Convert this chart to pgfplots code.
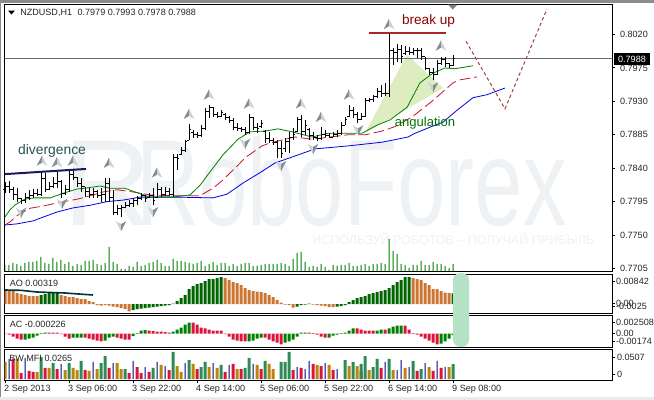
\documentclass[border=0pt]{standalone}
\usepackage{fontspec}
\setmainfont{Liberation Sans}
\usepackage{pgfplots}
\usepackage{pgfplotstable}
\pgfplotsset{compat=1.18}

\definecolor{wmark}{HTML}{EFF2F5}
\definecolor{aoOrange}{HTML}{CC7532}
\definecolor{aoGreen}{HTML}{006400}
\definecolor{acGreen}{HTML}{008000}
\definecolor{acRed}{HTML}{DC143C}
\definecolor{bwGreen}{HTML}{2E8B57}
\definecolor{bwGold}{HTML}{B8860B}
\definecolor{bwBlue}{HTML}{00008B}
\definecolor{fracDark}{HTML}{858C94}
\definecolor{fracLight}{HTML}{CDD1D6}
\definecolor{wedge}{HTML}{DEEDBF}
\definecolor{pill}{HTML}{B5E3C6}
\newcommand{\tinyfs}{\fontsize{6.8pt}{8pt}\selectfont}

\pgfdeclareplotmark{oTick}{\pgfpathmoveto{\pgfqpoint{-1.3pt}{0pt}}\pgfpathlineto{\pgfqpoint{0pt}{0pt}}\pgfusepathqstroke}
\pgfdeclareplotmark{cTick}{\pgfpathmoveto{\pgfqpoint{1.3pt}{0pt}}\pgfpathlineto{\pgfqpoint{0pt}{0pt}}\pgfusepathqstroke}
\pgfdeclareplotmark{fracUp}{%
  \pgfsetfillcolor{fracDark}
  \pgfpathmoveto{\pgfqpoint{0pt}{4pt}}\pgfpathlineto{\pgfqpoint{-4pt}{-3.8pt}}\pgfpathlineto{\pgfqpoint{0pt}{-1.5pt}}\pgfpathclose\pgfusepathqfill
  \pgfsetfillcolor{fracLight}
  \pgfpathmoveto{\pgfqpoint{0pt}{4pt}}\pgfpathlineto{\pgfqpoint{4pt}{-3.8pt}}\pgfpathlineto{\pgfqpoint{0pt}{-1.5pt}}\pgfpathclose\pgfusepathqfill}
\pgfdeclareplotmark{fracDown}{%
  \pgfsetfillcolor{fracLight}
  \pgfpathmoveto{\pgfqpoint{0pt}{-4pt}}\pgfpathlineto{\pgfqpoint{-4pt}{3.8pt}}\pgfpathlineto{\pgfqpoint{0pt}{1.5pt}}\pgfpathclose\pgfusepathqfill
  \pgfsetfillcolor{fracDark}
  \pgfpathmoveto{\pgfqpoint{0pt}{-4pt}}\pgfpathlineto{\pgfqpoint{4pt}{3.8pt}}\pgfpathlineto{\pgfqpoint{0pt}{1.5pt}}\pgfpathclose\pgfusepathqfill}

\pgfplotsset{
  panel/.style={
    scale only axis, width=456pt,
    xmin=-0.125, xmax=151.875,
    xtick=\empty,
    scaled y ticks=false,
    ytick pos=right, tick align=outside,
    major tick length=1.5pt,
    tick style={black, line width=0.75pt},
    axis line style={black, line width=0.75pt},
    yticklabel style={font=\tinyfs, anchor=west, inner sep=0pt, xshift=1pt, text=black!85},
    clip=true,
  },
  hbar/.style={ybar, bar width=2.25pt, bar shift=0pt, draw=none, fill=#1, forget plot},
  thinbar/.style={ybar, bar width=0.75pt, bar shift=0pt, draw=none, fill=#1, forget plot},
}

% hourly bars: index, open, high, low, close
\pgfplotstableread{
i o h l c
0 0.7811 0.7821 0.7807 0.7816
1 0.7816 0.7823 0.7807 0.7812
2 0.7812 0.7815 0.7797 0.7805
3 0.7805 0.7813 0.7795 0.7799
4 0.7799 0.7800 0.7792 0.7796
5 0.7796 0.7807 0.7793 0.7801
6 0.7801 0.7811 0.7797 0.7803
7 0.7803 0.7812 0.7800 0.7806
8 0.7806 0.7812 0.7803 0.7805
9 0.7805 0.7836 0.7803 0.7826
10 0.7826 0.7834 0.7808 0.7811
11 0.7811 0.7821 0.7811 0.7815
12 0.7815 0.7828 0.7813 0.7820
13 0.7820 0.7835 0.7813 0.7822
14 0.7822 0.7824 0.7800 0.7806
15 0.7806 0.7817 0.7804 0.7812
16 0.7812 0.7839 0.7808 0.7832
17 0.7832 0.7838 0.7824 0.7827
18 0.7827 0.7828 0.7815 0.7820
19 0.7820 0.7827 0.7808 0.7815
20 0.7815 0.7815 0.7801 0.7808
21 0.7808 0.7813 0.7800 0.7805
22 0.7805 0.7813 0.7800 0.7808
23 0.7808 0.7811 0.7800 0.7803
24 0.7803 0.7813 0.7795 0.7805
25 0.7805 0.7827 0.7795 0.7820
26 0.7820 0.7827 0.7795 0.7800
27 0.7800 0.7811 0.7777 0.7781
28 0.7781 0.7790 0.7777 0.7786
29 0.7786 0.7790 0.7774 0.7787
30 0.7787 0.7795 0.7786 0.7790
31 0.7790 0.7797 0.7788 0.7793
32 0.7793 0.7800 0.7788 0.7796
33 0.7796 0.7803 0.7790 0.7799
34 0.7799 0.7807 0.7797 0.7803
35 0.7803 0.7804 0.7795 0.7799
36 0.7800 0.7807 0.7800 0.7803
37 0.7803 0.7813 0.7790 0.7797
38 0.7801 0.7820 0.7800 0.7812
39 0.7812 0.7815 0.7801 0.7805
40 0.7805 0.7815 0.7803 0.7809
41 0.7809 0.7813 0.7803 0.7805
42 0.7805 0.7859 0.7801 0.7855
43 0.7855 0.7859 0.7838 0.7853
44 0.7858 0.7869 0.7858 0.7864
45 0.7864 0.7878 0.7862 0.7876
46 0.7878 0.7900 0.7878 0.7892
47 0.7888 0.7891 0.7881 0.7885
48 0.7885 0.7889 0.7881 0.7884
49 0.7884 0.7898 0.7882 0.7894
50 0.7894 0.7921 0.7891 0.7917
51 0.7917 0.7925 0.7908 0.7922
52 0.7922 0.7922 0.7909 0.7912
53 0.7912 0.7916 0.7908 0.7910
54 0.7910 0.7918 0.7909 0.7915
55 0.7912 0.7914 0.7905 0.7908
56 0.7908 0.7910 0.7901 0.7904
57 0.7904 0.7908 0.7891 0.7895
58 0.7895 0.7901 0.7890 0.7893
59 0.7893 0.7896 0.7889 0.7892
60 0.7892 0.7896 0.7885 0.7888
61 0.7888 0.7913 0.7886 0.7908
62 0.7908 0.7909 0.7891 0.7895
63 0.7895 0.7901 0.7887 0.7893
64 0.7896 0.7905 0.7894 0.7900
65 0.7890 0.7891 0.7874 0.7880
66 0.7880 0.7889 0.7874 0.7877
67 0.7877 0.7881 0.7871 0.7875
68 0.7875 0.7878 0.7854 0.7866
69 0.7866 0.7877 0.7854 0.7860
70 0.7866 0.7881 0.7862 0.7876
71 0.7876 0.7889 0.7860 0.7882
72 0.7882 0.7894 0.7878 0.7885
73 0.7889 0.7909 0.7889 0.7905
74 0.7905 0.7912 0.7882 0.7890
75 0.7890 0.7905 0.7885 0.7897
76 0.7892 0.7894 0.7878 0.7884
77 0.7884 0.7889 0.7878 0.7881
78 0.7881 0.7885 0.7877 0.7880
79 0.7880 0.7896 0.7878 0.7886
80 0.7886 0.7891 0.7882 0.7884
81 0.7884 0.7887 0.7881 0.7882
82 0.7882 0.7889 0.7882 0.7885
83 0.7885 0.7891 0.7882 0.7887
84 0.7887 0.7902 0.7885 0.7898
85 0.7898 0.7909 0.7898 0.7906
86 0.7910 0.7925 0.7909 0.7918
87 0.7918 0.7922 0.7908 0.7912
88 0.7912 0.7916 0.7901 0.7905
89 0.7905 0.7914 0.7905 0.7910
90 0.7910 0.7935 0.7909 0.7931
91 0.7931 0.7935 0.7929 0.7932
92 0.7932 0.7939 0.7929 0.7936
93 0.7936 0.7948 0.7935 0.7944
94 0.7944 0.7952 0.7936 0.7940
95 0.7940 0.7955 0.7937 0.7941
96 0.7941 0.8022 0.7936 0.7998
97 0.7999 0.8002 0.7979 0.7996
98 0.7996 0.8007 0.7983 0.8000
99 0.8000 0.8006 0.7982 0.7991
100 0.7995 0.8005 0.7993 0.7997
101 0.7997 0.8003 0.7993 0.7996
102 0.7996 0.8002 0.7993 0.7999
103 0.7999 0.8002 0.7988 0.7998
104 0.7998 0.8002 0.7986 0.7990
105 0.7990 0.7990 0.7972 0.7975
106 0.7975 0.7975 0.7966 0.7969
107 0.7969 0.7975 0.7959 0.7966
108 0.7966 0.7986 0.7966 0.7981
109 0.7981 0.7990 0.7979 0.7986
110 0.7986 0.7990 0.7976 0.7981
111 0.7981 0.7982 0.7975 0.7978
112 0.7979 0.7993 0.7978 0.7988
}\ohlc

% tick volume per bar
\pgfplotstableread{
i v
0 7
1 7
2 9
3 8
4 6
5 9
6 10
7 10
8 11
9 15
10 9
11 8
12 14
13 10
14 12
15 8
16 10
17 6
18 8
19 7
20 11
21 11
22 12
23 8
24 7
25 9
26 25
27 10
28 8
29 3
30 3
31 6
32 5
33 10
34 6
35 7
36 9
37 10
38 12
39 9
40 6
41 6
42 13
43 11
44 11
45 10
46 9
47 8
48 9
49 11
50 6
51 8
52 10
53 7
54 9
55 9
56 6
57 8
58 6
59 8
60 9
61 9
62 6
63 6
64 7
65 8
66 8
67 8
68 8
69 9
70 8
71 6
72 13
73 19
74 20
75 10
76 5
77 6
78 5
79 8
80 5
81 2
82 7
83 6
84 7
85 7
86 9
87 6
88 6
89 7
90 8
91 6
92 8
93 8
94 9
95 8
96 33
97 21
98 18
99 8
100 7
101 4
102 7
103 7
104 11
105 7
106 7
107 10
108 8
109 8
110 6
111 4
112 8
}\vol

\begin{document}
\begin{tikzpicture}
\begin{scope}[x=0.75pt,y=-0.75pt]
  \useasboundingbox (0,0) rectangle (654,400);
  \fill[white] (0,0) rectangle (654,400);
  \fill[black!45] (0,0) rectangle (654,3);
  \fill[black!45] (0,0) rectangle (1.5,400);
  \fill[black!8] (0,397) rectangle (654,400);
  % watermark sits under everything
  \node[anchor=base west, inner sep=0pt, text=wmark] at (63,225) {\fontsize{92pt}{92pt}\selectfont R};
  \node[anchor=base west, inner sep=0pt, text=wmark, xscale=0.71] at (136,225) {\fontsize{92pt}{92pt}\selectfont RoboForex};
  \node[anchor=west, inner sep=0pt, text=wmark] at (312,239) {\fontsize{9.4pt}{12pt}\selectfont ИСПОЛЬЗУЙ РОБОТОВ – ПОЛУЧАЙ ПРИБЫЛЬ};
\end{scope}

% volume overlay on the main window
\begin{axis}[panel, at={(3.375pt,-3.375pt)}, anchor=north west, height=200.6pt,
  ymin=0, ymax=267.5, ytick=\empty, hide axis]
  \addplot[thinbar=acGreen] table[x=i,y=v] {\vol};
\end{axis}

% main price window
\begin{axis}[panel, at={(3.375pt,-3.375pt)}, anchor=north west, height=200.6pt,
  ymin=0.77002, ymax=0.80605,
  ytick={0.8020,0.7975,0.7930,0.7885,0.7840,0.7795,0.7750,0.7705},
  yticklabels={0.8020,0.7975,0.7930,0.7885,0.7840,0.7795,0.7750,0.7705},
  yticklabel style={xshift=3pt}]
  % angulation wedge
  \addplot[fill=wedge, draw=none, forget plot] coordinates {(100.5,0.7993) (90,0.7887) (109.5,0.7948)} -- cycle;
  \addplot[black!50!blue!20!gray, line width=0.75pt, forget plot] coordinates {(-0.125,0.7988) (151.875,0.7988)};
  % alligator lines
  \addplot[blue!90!black, line width=0.6pt] coordinates {
    (0,0.77635) (3,0.7765) (7,0.7769) (9.5,0.7774) (13,0.7781) (17,0.77865) (21.25,0.7790) (25.5,0.7795) (29.5,0.7797)
    (33.75,0.7801) (43,0.7801) (52,0.7800) (55.5,0.7805) (59.5,0.7820) (63.75,0.7834) (67.5,0.7847) (71.75,0.7855)
    (77.5,0.7866) (85.75,0.7870) (94.25,0.7875) (100.75,0.7882) (102.5,0.7887) (107.5,0.7898) (109.5,0.7902)
    (113,0.7918) (117,0.7935) (120.5,0.7939) (125,0.7948)};
  \addplot[acRed!90!black, line width=0.6pt, dash pattern=on 8pt off 3pt] coordinates {
    (0,0.77635) (1.25,0.77676) (3.25,0.7777) (6.25,0.7786) (9.5,0.7789) (12,0.7792) (18.25,0.77985) (22,0.7804)
    (24.5,0.7808) (28,0.7811) (32,0.7808) (36.25,0.7804) (41.25,0.7803) (48.75,0.7803) (52,0.7813) (54.25,0.7823)
    (58.25,0.7844) (60,0.7854) (64.25,0.7870) (66.25,0.7874) (70,0.7879) (72.5,0.7882) (76.75,0.7879) (81.25,0.7882)
    (85.75,0.7885) (90,0.7885) (94.25,0.7890) (97.5,0.7896) (101.75,0.7909) (106.25,0.7928) (108,0.7936) (112,0.7955)
    (113.75,0.7959) (118,0.7963)};
  \addplot[acGreen, line width=0.6pt] coordinates {
    (0,0.77743) (1.25,0.7784) (2.5,0.77905) (5,0.77985) (7.5,0.7800) (11.25,0.7800) (15,0.7807) (18,0.7812) (20,0.7813)
    (23.75,0.7816) (26.25,0.7813) (30,0.7813) (32.5,0.7808) (36.25,0.7801) (42,0.7801) (46.25,0.7804) (48.75,0.7817)
    (51.25,0.7835) (54.5,0.7858) (58.25,0.7879) (61.25,0.7889) (65,0.7890) (68.25,0.7893) (71.75,0.7889) (76.75,0.7882)
    (80.75,0.7887) (85.75,0.7887) (89.25,0.7887) (93,0.7898) (96.25,0.7905) (100.5,0.7922) (103.75,0.7955) (107,0.7968)
    (110,0.7975) (112.5,0.7974) (117,0.7978)};
  % OHLC bars
  \addplot[draw=none, no markers, forget plot, error bars/.cd, y dir=plus, y explicit, error mark=none,
    error bar style={draw=black, solid, line width=0.7pt}]
    table[x=i, y=l, y error expr=\thisrow{h}-\thisrow{l}] {\ohlc};
  \addplot[only marks, mark=oTick, black, line width=0.7pt, forget plot] table[x=i,y=o] {\ohlc};
  \addplot[only marks, mark=cTick, black, line width=0.7pt, forget plot] table[x=i,y=c] {\ohlc};
  % fractals
  \addplot[only marks, mark=fracUp, forget plot] coordinates {
    (9.25,0.7850) (13,0.7848) (17,0.7850) (26,0.7847) (38,0.7834) (46,0.7913) (51,0.7939) (61,0.7927) (74,0.7927)
    (79,0.7909) (86,0.7939) (96,0.8034) (109,0.8005)};
  \addplot[only marks, mark=fracDown, forget plot] coordinates {
    (4,0.7780) (14.25,0.7792) (29,0.7762) (37,0.7781) (60,0.7873) (69,0.7843) (77,0.7866) (88.25,0.7891) (107,0.7949)};
  % hand-drawn objects on the chart
  \addplot[blue!30!black!90, line width=1.5pt, forget plot] coordinates {(0,0.7832) (20.25,0.7839)};
  \addplot[red!60!black!85, line width=1.5pt, forget plot] coordinates {(91,0.80226) (110.25,0.80226)};
  \addplot[red!50!black!75, line width=0.75pt, dash pattern=on 2.5pt off 2pt, forget plot] coordinates {(115.25,0.8011) (125,0.7920) (135.5,0.80545)};
\end{axis}

% Awesome Oscillator
\begin{axis}[panel, at={(3.375pt,-205.875pt)}, anchor=north west, height=29.25pt,
  ymin=-0.00285, ymax=0.00885,
  ytick={0.0069,0.0003,-0.0006}, yticklabels={0.00842,0.00,-0.0025}]
  \addplot[hbar=aoOrange] coordinates {
    (0,.0040) (1,.0039) (2,.0039) (3,.0033) (4,.0030) (5,.0027) (6,.0024) (7,.0024) (8,.0024)
    (14,.0027) (15,.0024) (16,.0021) (17,.0021) (18,.0018) (19,.0015) (20,.0015) (21,.0009) (22,.0006)
    (23,-.0003) (24,-.00045) (25,-.0003) (26,-.00045) (27,-.00075) (28,-.0009) (29,-.0012) (30,-.0015) (31,-.0022)
    (55,.0078) (56,.0072) (57,.0066) (58,.0063) (59,.0057) (60,.0048) (61,.0042) (62,.0039) (63,.00375) (64,.0036)
    (65,.0033) (66,.0027) (67,.0021) (68,.0012) (69,.00045) (70,-.0002) (71,-.0003) (72,-.00105)
    (77,-.00015) (78,-.0003) (79,-.00045) (80,-.0006) (81,-.0009) (82,-.0009)
    (102,.0078) (103,.0075) (104,.0072) (105,.0063) (106,.0057) (107,.0045) (108,.0045) (109,.0039) (110,.00345) (111,.0033)};
  \addplot[hbar=aoGreen] coordinates {
    (9,.0027) (10,.0030) (11,.0033) (12,.0033) (13,.0033)
    (32,-.0018) (33,-.0015) (34,-.00135) (35,-.0012) (36,-.00105) (37,-.0009) (38,-.00075) (39,-.0006) (40,-.00045) (41,-.0003)
    (42,.00015) (43,.0009) (44,.0018) (45,.0027) (46,.0045) (47,.0054) (48,.0060) (49,.0063) (50,.0069) (51,.0075) (52,.0075) (53,.0078) (54,.0081)
    (73,-.00075) (74,-.0003) (75,-.00015) (76,.00015)
    (83,-.00075) (84,-.0006) (85,-.0003) (86,.0006) (87,.0012) (88,.0018) (89,.0021) (90,.0024) (91,.0030) (92,.0033) (93,.0036) (94,.0039) (95,.0042)
    (96,.0048) (97,.0057) (98,.0066) (99,.0072) (100,.0081) (101,.0081) (112,.00319)};
  \addplot[black!60!teal, line width=1.2pt, forget plot] coordinates {(0,.0042) (4,.0041) (8,.0036) (15,.0033) (22,.0027)};
\end{axis}

% Accelerator Oscillator
\begin{axis}[panel, at={(3.375pt,-236.625pt)}, anchor=north west, height=24pt,
  ymin=-0.00186, ymax=0.0024,
  ytick={0.00153,0.00007,-0.0010}, yticklabels={0.002508,0.00,-0.00174}]
  \addplot[hbar=acRed] coordinates {
    (0,-.00004) (1,-.00013) (2,-.0004) (3,-.00067) (4,-.0008)
    (11,.00013) (12,.00013) (13,.00013) (14,-.00007) (15,-.0004) (16,-.00067)
    (20,-.00053) (21,-.00067) (22,-.0008) (23,-.00093) (24,-.00106)
    (28,-.00053) (29,-.00067) (30,-.0008) (31,-.0008)
    (36,.0004) (37,.00033) (38,.00027) (39,.00027) (40,.0002) (41,.00013)
    (47,.00146) (48,.0012) (49,.0008) (50,.00067) (51,.00053) (52,.0004) (53,.0004) (54,.0004) (55,-.00007)
    (56,-.0004) (57,-.0008) (58,-.00093) (59,-.00106) (60,-.00106)
    (65,-.00053) (66,-.0008) (67,-.00106) (68,-.0012) (69,-.00146)
    (76,.00013) (77,.00007) (78,-.00013) (79,-.0004) (80,-.00053)
    (88,.00067) (89,.00053) (90,.0004) (91,.0004) (92,.0004) (95,.00053)
    (100,.00106) (101,.00053) (102,.00007) (103,-.00013) (104,-.0004) (105,-.00067) (106,-.00093) (107,-.0012) (108,-.00146)};
  \addplot[hbar=acGreen] coordinates {
    (5,-.0008) (6,-.00067) (7,-.00053) (8,-.00027) (9,.00007) (10,.00013)
    (17,-.00053) (18,-.00053) (19,-.00053) (25,-.00093) (26,-.00053) (27,-.0004)
    (32,-.00033) (33,.00007) (34,.0004) (35,.00047)
    (42,.00027) (43,.00053) (44,.0008) (45,.0012) (46,.00146)
    (61,-.00106) (62,-.00093) (63,-.00067) (64,-.00053) (70,-.0012) (71,-.00106) (72,-.0008) (73,-.0004) (74,.00013) (75,.00013)
    (81,-.00053) (82,-.00027) (83,-.00013) (84,.00007) (85,.00013) (86,.0004) (87,.00067) (93,.0004) (94,.00053)
    (96,.00067) (97,.00093) (98,.00106) (99,.00106)
    (109,-.00133) (110,-.00106) (111,-.00067) (112,-.000226)};
\end{axis}

% Market Facilitation Index
\begin{axis}[panel, at={(3.375pt,-262.125pt)}, anchor=north west, height=23.25pt,
  ymin=-0.00265, ymax=0.0522,
  ytick={0.0389,0.00885}, yticklabels={0.0507,0},
  xtick={0,16,32,48,64,80,96,112},
  xticklabels={2 Sep 2013,3 Sep 06:00,3 Sep 22:00,4 Sep 14:00,5 Sep 06:00,5 Sep 22:00,6 Sep 14:00,9 Sep 08:00},
  xtick pos=bottom,
  major tick length=2.2pt,
  xticklabel style={font=\tinyfs, anchor=north west, inner sep=0pt, xshift=-0.8pt, yshift=-1.4pt, text=black!85}]
  \addplot[hbar=bwGold] coordinates {
    (0,.0301) (3,.0354) (8,.0124) (11,.0195) (15,.0159) (17,.0195) (18,.0159) (21,.0142) (23,.0177) (28,.0283) (29,.0177)
    (39,.0248) (43,.023) (44,.0124) (47,.0266) (51,.0212) (53,.0195) (58,.0177) (63,.0248) (66,.0266) (67,.0177)
    (78,.0248) (81,.0248) (86,.023) (88,.023) (91,.0159) (97,.0159) (100,.0195) (106,.0212) (111,.0212)};
  \addplot[hbar=acRed] coordinates {
    (2,.0354) (4,.0106) (6,.0142) (7,.0124) (10,.0195) (13,.0177) (20,.0159) (26,.0195) (31,.0106) (33,.0212) (34,.0106)
    (36,.0124) (41,.0159) (48,.0177) (55,.0124) (57,.0266) (59,.0177) (64,.0177) (72,.0159) (74,.0195) (77,.0266)
    (79,.023) (82,.0159) (89,.0142) (94,.0195) (103,.0142) (107,.0142) (109,.0195)};
  \addplot[hbar=bwGreen] coordinates {
    (9,.0389) (12,.0283) (16,.0283) (19,.0319) (24,.0283) (25,.0407) (30,.0177) (37,.0195) (42,.0478) (46,.0336) (49,.0212) (50,.0301)
    (54,.0248) (60,.0195) (61,.0372) (65,.0319) (69,.0301) (70,.0301) (71,.0478) (85,.0336) (87,.0301) (89,.0266)
    (90,.0407) (92,.0212) (93,.0354) (96,.0354) (102,.0319) (104,.0177) (112,.0265)};
  \addplot[thinbar=bwBlue] coordinates {
    (1,.0354) (5,.0372) (14,.0266) (22,.0301) (27,.0283) (32,.0319) (35,.0212) (38,.0301) (40,.023) (45,.0283) (52,.0283)
    (56,.0248) (62,.0266) (73,.0212) (75,.0177) (76,.0319) (80,.0283) (83,.0177) (95,.0301) (98,.0159) (99,.0336) (101,.0212)
    (105,.0283) (108,.0319) (110,.0212)};
\end{axis}

\begin{scope}[x=0.75pt,y=-0.75pt]
  % header and indicator captions
  \fill[black] (8,10.5) -- (15,10.5) -- (11.5,14.5) -- cycle;
  \node[anchor=west, inner sep=0pt, text=black!85] at (20,12.5) {\tinyfs NZDUSD,H1\hspace{0.6em}0.7979 0.7993 0.7978 0.7988};
  \node[anchor=west, inner sep=0pt, text=black!85] at (9.5,283) {\tinyfs AO 0.00319};
  \node[anchor=west, inner sep=0pt, text=black!85] at (9.5,324) {\tinyfs AC -0.000226};
  \node[anchor=west, inner sep=0pt, text=black!85] at (9,358) {\tinyfs BW MFI 0.0265};
  % chart annotations
  \node[inner sep=0pt, text=red!55!black] at (428.5,21) {\fontsize{10.2pt}{12pt}\selectfont break up};
  \node[inner sep=0pt, text=black!60!teal!85] at (52,151) {\fontsize{10.4pt}{12pt}\selectfont divergence};
  \node[inner sep=0pt, text=green!45!black] at (425,123) {\fontsize{9.8pt}{12pt}\selectfont angulation};
  % current price box and chart shift marker
  \fill[black] (614,53) rectangle (650,64.5);
  \node[inner sep=0pt, text=white] at (632,59) {\tinyfs 0.7988};
  \fill[black!50] (448,4.5) -- (457.5,4.5) -- (452.7,9.5) -- cycle;
  % highlighted end of the oscillators
  \fill[pill, rounded corners=5.5pt] (453,273) rectangle (469,347);
\end{scope}
\end{tikzpicture}
\end{document}
